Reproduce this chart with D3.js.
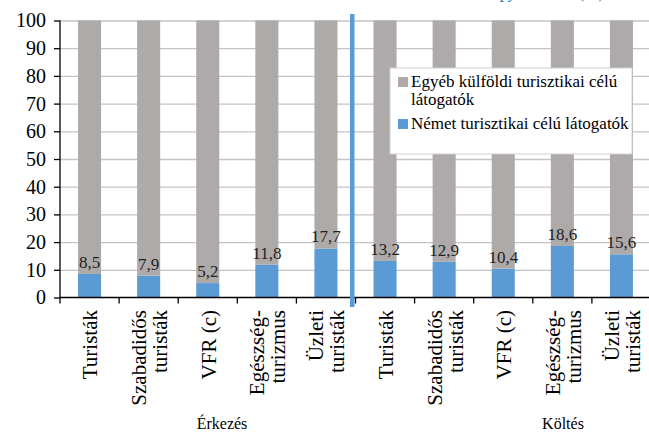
<!DOCTYPE html>
<html>
<head>
<meta charset="utf-8">
<script src="https://cdn.jsdelivr.net/npm/d3@7"></script>
</head>
<body style="margin:0; background:#fff">
<svg width="649" height="434"></svg>
<script>
// values
const groups = ['Érkezés', 'Költés']
const categories = [['Turisták'], ['Szabadidős', 'turisták'], ['VFR (c)'], ['Egészség-', 'turizmus'], ['Üzleti', 'turisták']]
const nemet = [8.5, 7.9, 5.2, 11.8, 17.7, 13.2, 12.9, 10.4, 18.6, 15.6]
const egyeb = [91.5, 92.1, 94.8, 88.2, 82.3, 86.8, 87.1, 89.6, 81.4, 84.4]
const nemetLabels = ['8,5', '7,9', '5,2', '11,8', '17,7', '13,2', '12,9', '10,4', '18,6', '15,6']
const yTicks = [0, 10, 20, 30, 40, 50, 60, 70, 80, 90, 100]
const seriesNames = ['Egyéb külföldi turisztikai célú látogatók', 'Német turisztikai célú látogatók']

const blue = '#5b9bd5'
const grey = '#aeaaaa'
const serif = "'Liberation Serif', 'Times New Roman', serif"

const svg = d3.select('svg')
const plot = { left: 60, right: 651, top: 20.5, bottom: 297.5 }

const rows = []
groups.forEach((g, gi) => {
  categories.forEach((c, ci) => {
    const i = gi * categories.length + ci
    rows.push({ key: g + '|' + ci, lines: c, nemet: nemet[i], egyeb: egyeb[i], label: nemetLabels[i] })
  })
})

const x = d3.scaleBand()
  .domain(rows.map(d => d.key))
  .range([plot.left, plot.right])
  .paddingInner(0.61)
  .paddingOuter(0.305)

const y = d3.scaleLinear().domain([0, 100]).range([plot.bottom, plot.top])

// gridlines
svg.append('g')
  .attr('transform', 'translate(' + plot.left + ',0)')
  .call(d3.axisLeft(y).tickValues(yTicks.slice(1)).tickSize(-(plot.right - plot.left)).tickFormat(''))
  .call(g => g.select('.domain').remove())
  .call(g => g.selectAll('line').attr('stroke', '#c4c4c4').attr('stroke-width', 1.3))

// stacked bars
const bars = svg.append('g')
bars.selectAll('rect.n')
  .data(rows)
  .enter().append('rect')
    .attr('class', 'n')
    .attr('x', d => x(d.key))
    .attr('width', x.bandwidth())
    .attr('y', d => y(d.nemet))
    .attr('height', d => y(0) - y(d.nemet))
    .attr('fill', blue)

bars.selectAll('rect.e')
  .data(rows)
  .enter().append('rect')
    .attr('class', 'e')
    .attr('x', d => x(d.key))
    .attr('width', x.bandwidth())
    .attr('y', d => y(d.nemet + d.egyeb))
    .attr('height', d => y(d.nemet) - y(d.nemet + d.egyeb))
    .attr('fill', grey)

// data labels
svg.append('g')
  .selectAll('text')
  .data(rows)
  .enter().append('text')
    .attr('x', d => x(d.key) + x.bandwidth() / 2)
    .attr('y', d => y(d.nemet) - 6)
    .attr('text-anchor', 'middle')
    .attr('font-size', 17)
    .attr('fill', '#222')
    .text(d => d.label)

// y axis
const yAxis = svg.append('g')
  .attr('transform', 'translate(' + plot.left + ',0)')
  .call(d3.axisLeft(y).tickValues(yTicks).tickSize(6).tickPadding(8))
yAxis.select('.domain').attr('stroke', '#000').attr('stroke-width', 1.3).attr('d', 'M0,' + plot.top + 'V' + plot.bottom)
yAxis.selectAll('.tick line').attr('stroke', '#000').attr('stroke-width', 1.3)
yAxis.selectAll('.tick text').attr('font-size', 20).attr('fill', '#000')

// x axis line and ticks at category boundaries
const step = x.step()
svg.append('line')
  .attr('x1', plot.left).attr('x2', plot.right)
  .attr('y1', plot.bottom).attr('y2', plot.bottom)
  .attr('stroke', '#000').attr('stroke-width', 1.3)
svg.append('g')
  .selectAll('line')
  .data(d3.range(rows.length + 1))
  .enter().append('line')
    .attr('x1', i => plot.left + i * step).attr('x2', i => plot.left + i * step)
    .attr('y1', plot.bottom).attr('y2', plot.bottom + 6)
    .attr('stroke', '#000').attr('stroke-width', 1.3)

// category labels, rotated
const lineGap = 21
const catLabels = svg.append('g')
  .selectAll('text')
  .data(rows)
  .enter().append('text')
    .attr('transform', d => 'translate(' + (x(d.key) + x.bandwidth() / 2 + 1) + ',' + 310 + ') rotate(-90)')
    .attr('text-anchor', 'end')
    .attr('font-size', 21)
    .attr('fill', '#000')
catLabels.selectAll('tspan')
  .data(d => d.lines.map((t, i) => ({ t, i, n: d.lines.length })))
  .enter().append('tspan')
    .attr('x', 0)
    .attr('y', d => (d.i - (d.n - 1) / 2) * lineGap)
    .attr('dy', '0.33em')
    .text(d => d.t)

// group labels
svg.append('g')
  .selectAll('text')
  .data(groups)
  .enter().append('text')
    .attr('x', (d, i) => [222, 563][i])
    .attr('y', 429)
    .attr('text-anchor', 'middle')
    .attr('font-size', 16)
    .attr('fill', '#000')
    .text(d => d)

// separator between the two groups
svg.append('rect')
  .attr('x', plot.left + 5 * step - 5.5)
  .attr('y', 14)
  .attr('width', 4.5)
  .attr('height', 293)
  .attr('fill', blue)

// legend
const legend = svg.append('g').attr('transform', 'translate(390,68)')
legend.append('rect')
  .attr('width', 242).attr('height', 86)
  .attr('fill', '#fff').attr('stroke', '#d0d0d0')
const legendItems = [
  { color: grey, lines: ['Egyéb külföldi turisztikai célú', 'látogatók'], y: 19 },
  { color: blue, lines: ['Német turisztikai célú látogatók'], y: 61 }
]
legendItems.forEach((it, k) => {
  legend.append('rect')
    .attr('x', 8).attr('y', it.y - 10)
    .attr('width', 10).attr('height', 10)
    .attr('fill', it.color)
  legend.append('text')
    .attr('x', 21).attr('y', it.y)
    .attr('font-size', 17)
    .attr('fill', '#000')
    .attr('aria-label', seriesNames[k])
    .selectAll('tspan')
    .data(it.lines)
    .enter().append('tspan')
      .attr('x', 21)
      .attr('dy', (d, i) => i === 0 ? 0 : 18)
      .text(d => d)
})

// cut-off title at the top edge, only its descenders show
svg.append('text')
  .attr('x', 604).attr('y', -2)
  .attr('text-anchor', 'end')
  .attr('font-size', 17)
  .attr('fill', '#2e75b6')
  .text('Tartózkodási napjai, költés (%)')

svg.selectAll('text').style('font-family', serif)
</script>
</body>
</html>
